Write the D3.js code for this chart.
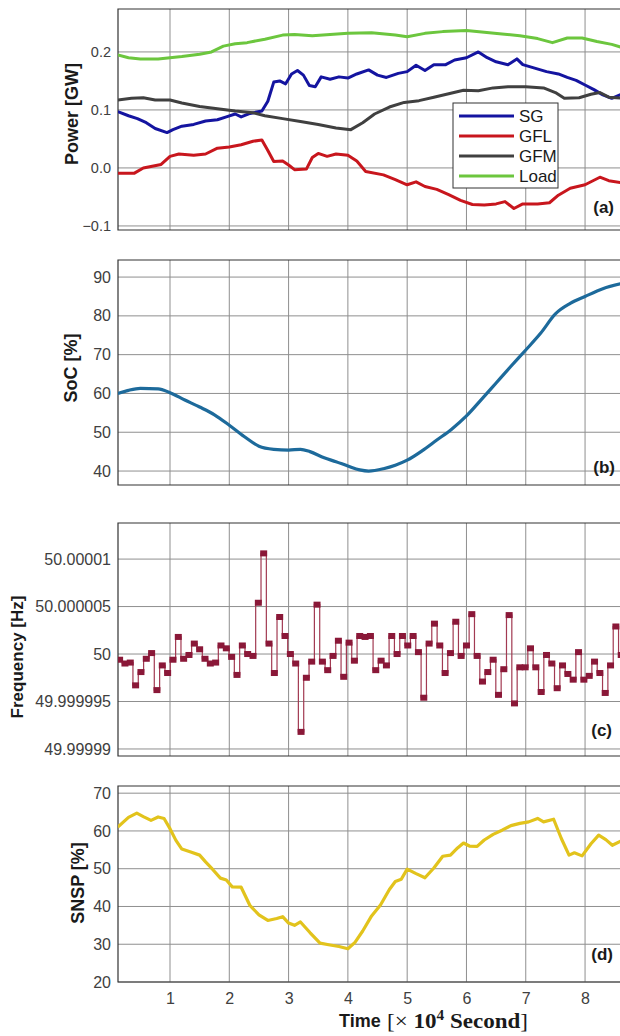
<!DOCTYPE html>
<html>
<head>
<meta charset="utf-8">
<script src="https://cdn.jsdelivr.net/npm/d3@7"></script>
<style>
  body { margin: 0; background: #fff; }
  svg text { font-family: "Liberation Sans", Arial, sans-serif; }
</style>
</head>
<body>
<svg id="chart" width="620" height="1036"></svg>
<script>
// ---- time axis (units of 10^4 s) ----
const timeTicks = [1, 2, 3, 4, 5, 6, 7, 8];

// ---- (a) power flows [GW], [time, value] ----
const sgPower = [[0.12,0.097],[0.3,0.09],[0.45,0.085],[0.6,0.078],[0.75,0.068],[0.95,0.061],[1.05,0.066],[1.2,0.072],[1.4,0.075],[1.6,0.081],[1.8,0.083],[1.95,0.088],[2.1,0.093],[2.2,0.088],[2.35,0.094],[2.55,0.098],[2.65,0.115],[2.75,0.148],[2.85,0.15],[2.95,0.145],[3.05,0.162],[3.15,0.168],[3.25,0.16],[3.35,0.142],[3.45,0.14],[3.55,0.157],[3.7,0.153],[3.85,0.157],[4.0,0.155],[4.15,0.162],[4.35,0.169],[4.5,0.16],[4.65,0.156],[4.85,0.163],[5.0,0.166],[5.15,0.177],[5.3,0.168],[5.45,0.178],[5.65,0.178],[5.8,0.186],[6.0,0.19],[6.2,0.2],[6.35,0.19],[6.5,0.183],[6.7,0.178],[6.85,0.188],[6.95,0.178],[7.15,0.172],[7.35,0.166],[7.55,0.162],[7.7,0.156],[7.85,0.151],[8.0,0.143],[8.15,0.135],[8.3,0.126],[8.45,0.12],[8.64,0.128]];
const gflPower = [[0.12,-0.009],[0.4,-0.009],[0.55,0.0],[0.7,0.003],[0.85,0.006],[1.0,0.02],[1.15,0.024],[1.4,0.022],[1.6,0.024],[1.8,0.034],[2.0,0.036],[2.2,0.04],[2.4,0.046],[2.55,0.048],[2.65,0.03],[2.75,0.011],[2.9,0.012],[3.0,0.005],[3.1,-0.003],[3.3,-0.002],[3.4,0.018],[3.5,0.025],[3.65,0.02],[3.8,0.024],[4.0,0.022],[4.15,0.012],[4.3,-0.006],[4.6,-0.012],[4.8,-0.02],[5.0,-0.029],[5.15,-0.024],[5.3,-0.032],[5.5,-0.037],[5.7,-0.046],[5.9,-0.056],[6.1,-0.063],[6.3,-0.064],[6.5,-0.062],[6.65,-0.058],[6.8,-0.07],[6.95,-0.062],[7.2,-0.062],[7.4,-0.06],[7.55,-0.047],[7.75,-0.035],[8.0,-0.029],[8.25,-0.016],[8.4,-0.022],[8.64,-0.026]];
const gfmPower = [[0.12,0.117],[0.35,0.12],[0.55,0.121],[0.75,0.117],[1.0,0.117],[1.2,0.112],[1.5,0.106],[1.8,0.102],[2.1,0.098],[2.4,0.095],[2.6,0.09],[2.9,0.085],[3.2,0.08],[3.5,0.075],[3.8,0.069],[4.05,0.066],[4.25,0.078],[4.45,0.093],[4.7,0.105],[4.95,0.113],[5.2,0.116],[5.45,0.122],[5.7,0.128],[5.95,0.134],[6.2,0.133],[6.45,0.138],[6.7,0.14],[7.0,0.14],[7.3,0.138],[7.5,0.13],[7.65,0.12],[7.9,0.121],[8.1,0.127],[8.25,0.13],[8.4,0.122],[8.64,0.12]];
const loadPower = [[0.12,0.195],[0.3,0.19],[0.5,0.188],[0.8,0.188],[1.0,0.19],[1.2,0.192],[1.5,0.196],[1.7,0.2],[1.9,0.21],[2.1,0.214],[2.3,0.216],[2.6,0.222],[2.9,0.229],[3.1,0.23],[3.4,0.228],[3.7,0.23],[4.0,0.232],[4.4,0.233],[4.8,0.229],[5.0,0.226],[5.3,0.232],[5.6,0.235],[6.0,0.237],[6.3,0.234],[6.6,0.231],[6.9,0.228],[7.2,0.223],[7.45,0.216],[7.7,0.224],[7.95,0.224],[8.2,0.218],[8.45,0.213],[8.64,0.207]];
const powerTicks = [-0.1, 0, 0.1, 0.2];

// ---- (b) battery state of charge [%] ----
const soc = [[0.12,60],[0.3,60.8],[0.5,61.3],[0.8,61.2],[1.0,60.2],[1.25,58.3],[1.5,56.5],[1.75,54.5],[2.0,51.8],[2.25,48.9],[2.5,46.4],[2.75,45.6],[3.0,45.4],[3.2,45.6],[3.36,45],[3.6,43.4],[3.8,42.4],[4.0,41.3],[4.2,40.3],[4.35,40],[4.6,40.6],[4.8,41.5],[5.0,42.8],[5.25,45.2],[5.5,48],[5.75,50.8],[6.0,54.2],[6.25,58.4],[6.5,62.7],[6.75,67],[7.0,71.2],[7.25,75.5],[7.5,80.5],[7.75,83.2],[8.0,85],[8.3,87],[8.64,88.4]];
const socTicks = [40, 50, 60, 70, 80, 90];

// ---- (c) frequency deviation from 50 Hz [µHz], one sample every 900 s ----
const freqStart = 0.15;
const freqInterval = 0.09;
const freqDev = [-0.6,-1,-0.9,-3.3,-1.9,-0.5,0.1,-3.8,-1.2,-2,-0.6,1.8,-0.5,-0.1,1.1,0.5,-0.5,-1,-0.9,0.9,0.6,-0.3,-2.2,0.9,0,-0.2,5.4,10.6,1.1,-2,3.9,1.9,0,-1,-8.2,-2.5,-0.8,
  5.2,-0.8,-1.7,-0.2,1.4,-2.4,1.2,-0.7,1.9,1.8,1.9,-1.7,-0.7,-1.2,1.9,0,1.9,0.9,1.9,0.2,-4.6,1.1,3.2,0.9,-2,0.1,3.4,-0.2,0.9,4.2,-0.2,-2.9,-1.9,-0.6,-4.3,-1.6,4.1,-5.2,-1.4,-1.4,0.6,-1.4,-4,-0.1,-1,-3.6,-1.2,-2.1,-2.7,0.2,-2.7,-2.3,-0.8,-2,-4.1,-1.2,2.9,-0.1];
const freqTicks = [-10, -5, 0, 5, 10];
const freqTickLabels = ["49.99999", "49.999995", "50", "50.000005", "50.00001"];

// ---- (d) system non-synchronous penetration [%] ----
const snsp = [[0.12,61],[0.3,63.6],[0.44,64.7],[0.55,63.8],[0.68,62.8],[0.8,63.7],[0.9,63.3],[1.0,60.6],[1.1,57.5],[1.2,55.2],[1.35,54.4],[1.5,53.6],[1.6,51.8],[1.72,49.8],[1.85,47.5],[1.95,47],[2.05,45.2],[2.2,45.1],[2.35,40.2],[2.5,37.8],[2.65,36.3],[2.8,36.8],[2.9,37.3],[3.0,35.6],[3.1,35],[3.2,35.9],[3.36,33.1],[3.53,30.3],[3.7,29.8],[3.85,29.4],[4.0,28.8],[4.12,30.5],[4.25,33.5],[4.4,37.5],[4.55,40.4],[4.7,44.5],[4.8,46.6],[4.9,47.2],[5.0,49.9],[5.15,48.7],[5.3,47.6],[5.45,50.2],[5.6,53.3],[5.73,53.6],[5.85,55.5],[5.95,56.8],[6.05,56],[6.18,55.9],[6.3,57.6],[6.45,59.1],[6.6,60.2],[6.75,61.4],[6.9,62],[7.05,62.4],[7.2,63.3],[7.3,62.4],[7.47,63.1],[7.6,58],[7.73,53.6],[7.82,54.2],[7.95,53.4],[8.1,56.6],[8.23,58.9],[8.35,57.7],[8.46,56.2],[8.64,57.6]];
const snspTicks = [20, 30, 40, 50, 60, 70];

// ---- layout ----
const svg = d3.select("#chart");
const left = 118, right = 623;
const x = d3.scaleLinear().domain([0.123, 8.64]).range([left, right]);

function panel(id, top, bottom, domain, ticks, fmt, tickFont) {
  const y = d3.scaleLinear().domain(domain).range([bottom, top]);
  const g = svg.append("g").attr("class", "panel-" + id);
  g.append("clipPath").attr("id", "clip-" + id)
    .append("rect").attr("x", left).attr("y", top).attr("width", right - left).attr("height", bottom - top);
  // grid
  g.append("g").selectAll("line").data(timeTicks).join("line")
    .attr("x1", d => x(d)).attr("x2", d => x(d)).attr("y1", top).attr("y2", bottom)
    .attr("stroke", "#8f8f8f").attr("stroke-width", 1);
  g.append("g").selectAll("line").data(ticks).join("line")
    .attr("x1", left).attr("x2", right).attr("y1", d => y(d)).attr("y2", d => y(d))
    .attr("stroke", "#8f8f8f").attr("stroke-width", 1);
  // frame
  g.append("path")
    .attr("d", `M${right},${top}H${left}V${bottom}H${right}`)
    .attr("fill", "none").attr("stroke", "#333").attr("stroke-width", 1.2);
  // y tick labels
  const ax = g.append("g").attr("transform", `translate(${left},0)`)
    .call(d3.axisLeft(y).tickValues(ticks).tickFormat(fmt).tickSize(0).tickPadding(7));
  ax.select(".domain").remove();
  ax.selectAll("text").attr("fill", "#404040").style("font-size", tickFont + "px")
    .style("font-family", "'Liberation Sans', Arial, sans-serif");
  const plot = g.append("g").attr("clip-path", `url(#clip-${id})`);
  return { y, g, plot };
}

function yTitle(text, cx, cy, size) {
  svg.append("text")
    .attr("transform", `translate(${cx},${cy}) rotate(-90)`)
    .attr("text-anchor", "middle").attr("dy", "0.35em")
    .attr("font-weight", "bold").attr("font-size", size).attr("fill", "#1a1a1a")
    .text(text);
}

function tag(text, xr, yb) {
  svg.append("text").attr("x", xr).attr("y", yb).attr("text-anchor", "end")
    .attr("font-weight", "bold").attr("font-size", 17).attr("fill", "#1a1a1a").text(text);
}

// ---- (a) ----
const pa = panel("a", 9, 230, [-0.107, 0.274], powerTicks, d3.format(".1f"), 14.5);
const powerSeries = [
  { name: "SG", data: sgPower, color: "#1414a0" },
  { name: "GFL", data: gflPower, color: "#c8161d" },
  { name: "GFM", data: gfmPower, color: "#404040" },
  { name: "Load", data: loadPower, color: "#6cc63e" }
];
const lineA = d3.line().x(d => x(d[0])).y(d => pa.y(d[1]));
pa.plot.selectAll("path.series").data(powerSeries).join("path")
  .attr("class", "series").attr("d", d => lineA(d.data))
  .attr("fill", "none").attr("stroke", d => d.color).attr("stroke-width", 3)
  .attr("stroke-linejoin", "round");
// legend
const lg = svg.append("g");
lg.append("rect").attr("x", 453).attr("y", 103).attr("width", 105).attr("height", 85)
  .attr("fill", "#fff").attr("stroke", "#333").attr("stroke-width", 1);
const legRow = d3.scalePoint().domain(powerSeries.map(d => d.name)).range([116, 176]);
lg.selectAll("line").data(powerSeries).join("line")
  .attr("x1", 459).attr("x2", 514).attr("y1", d => legRow(d.name)).attr("y2", d => legRow(d.name))
  .attr("stroke", d => d.color).attr("stroke-width", 3);
lg.selectAll("text").data(powerSeries).join("text")
  .attr("x", 519).attr("y", d => legRow(d.name)).attr("dy", "0.36em")
  .attr("font-size", 17).attr("fill", "#1a1a1a").text(d => d.name);
yTitle("Power [GW]", 72, 114, 18);
tag("(a)", 614, 213);

// ---- (b) ----
const pb = panel("b", 260, 485, [36.4, 94.4], socTicks, d3.format("d"), 16);
pb.plot.append("path").datum(soc)
  .attr("d", d3.line().curve(d3.curveMonotoneX).x(d => x(d[0])).y(d => pb.y(d[1])))
  .attr("fill", "none").attr("stroke", "#1d6a9b").attr("stroke-width", 3.2);
yTitle("SoC [%]", 71, 368, 18);
tag("(b)", 615, 473);

// ---- (c) ----
const pc = panel("c", 523, 756, [-10.74, 13.8], freqTicks, (d, i) => freqTickLabels[i], 16);
const freqPts = freqDev.map((v, i) => [freqStart + i * freqInterval, v]);
pc.plot.append("path").datum(freqPts)
  .attr("d", d3.line().curve(d3.curveStep).x(d => x(d[0])).y(d => pc.y(d[1])))
  .attr("fill", "none").attr("stroke", "#a23a52").attr("stroke-width", 1.2);
pc.plot.selectAll("rect.mk").data(freqPts).join("rect").attr("class", "mk")
  .attr("x", d => x(d[0]) - 3.5).attr("y", d => pc.y(d[1]) - 3)
  .attr("width", 7).attr("height", 6).attr("fill", "#8a1838");
yTitle("Frequency [Hz]", 17, 657, 17);
tag("(c)", 612, 736);

// ---- (d) ----
const pd = panel("d", 786, 982, [20, 71.9], snspTicks, d3.format("d"), 16);
pd.plot.append("path").datum(snsp)
  .attr("d", d3.line().x(d => x(d[0])).y(d => pd.y(d[1])))
  .attr("fill", "none").attr("stroke", "#e2c31c").attr("stroke-width", 3.2)
  .attr("stroke-linejoin", "round");
yTitle("SNSP [%]", 78, 883, 18);
tag("(d)", 613, 960);

// time axis labels
const xa = svg.append("g").attr("transform", `translate(0,982)`)
  .call(d3.axisBottom(x).tickValues(timeTicks).tickFormat(d3.format("d")).tickSize(0).tickPadding(11));
xa.select(".domain").remove();
xa.selectAll("text").attr("fill", "#404040").style("font-size", "16px")
  .style("font-family", "'Liberation Sans', Arial, sans-serif");

svg.append("text").attr("x", 339).attr("y", 1027)
  .attr("font-weight", "bold").attr("font-size", 18).attr("fill", "#1a1a1a").text("Time");
const unit = svg.append("text").attr("x", 387).attr("y", 1028)
  .attr("font-size", 21).attr("fill", "#1a1a1a")
  .attr("textLength", 141).attr("lengthAdjust", "spacingAndGlyphs")
  .style("font-family", "'Liberation Serif', 'DejaVu Serif', serif");
unit.append("tspan").text("[× ");
unit.append("tspan").attr("font-weight", "bold").text("10");
unit.append("tspan").attr("font-weight", "bold").attr("font-size", 14).attr("dy", -8).text("4");
unit.append("tspan").attr("font-weight", "bold").attr("dy", 8).text(" Second");
unit.append("tspan").text("]");
</script>
</body>
</html>
